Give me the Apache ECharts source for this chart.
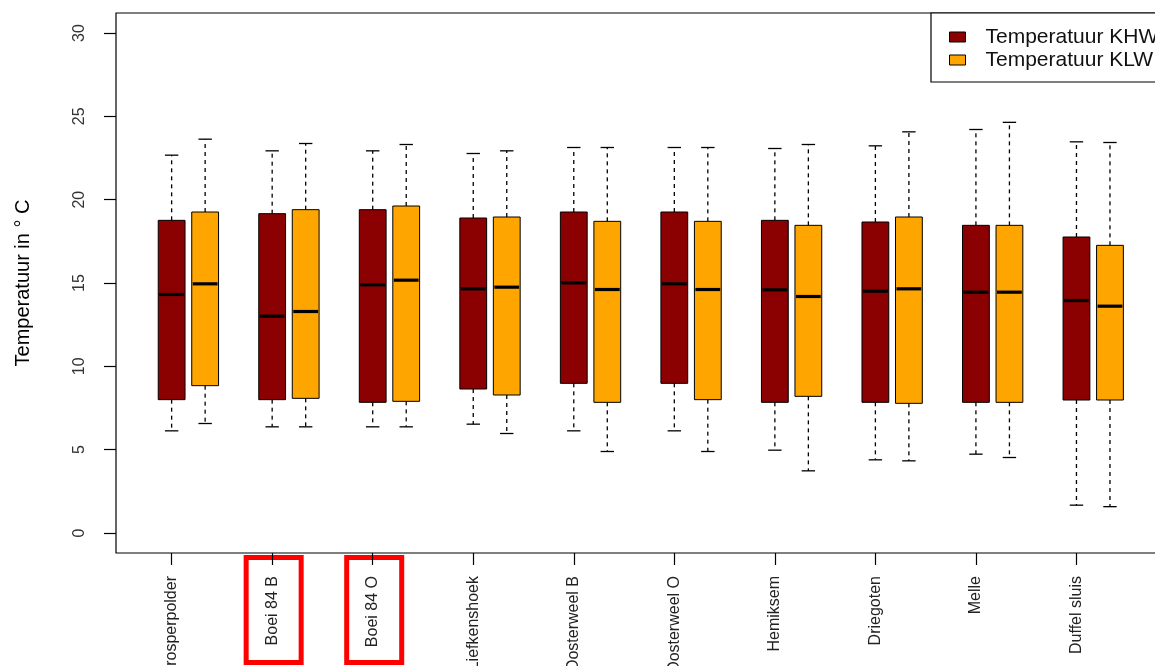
<!DOCTYPE html>
<html>
<head>
<meta charset="utf-8">
<script src="https://cdn.jsdelivr.net/npm/echarts@6/dist/echarts.min.js"></script>
<style>
html,body{margin:0;padding:0;background:#fff;}
#chart{width:1155px;height:666px;}
</style>
</head>
<body>
<div id="chart"></div>
<script>
// Categories (stations)
const categories = ['Prosperpolder','Boei 84 B','Boei 84 O','Liefkenshoek','Oosterweel B','Oosterweel O','Hemiksem','Driegoten','Melle','Duffel sluis'];
// Box statistics per station: [lower whisker, Q1, median, Q3, upper whisker]
const khw = [
  [6.13, 8.00, 14.31, 18.76, 22.67],
  [6.37, 8.00, 13.01, 19.16, 22.93],
  [6.37, 7.84, 14.89, 19.40, 22.93],
  [6.53, 8.64, 14.65, 18.90, 22.77],
  [6.13, 8.98, 15.01, 19.26, 23.13],
  [6.13, 8.98, 14.95, 19.26, 23.13],
  [4.97, 7.84, 14.59, 18.76, 23.07],
  [4.39, 7.84, 14.51, 18.66, 23.23],
  [4.73, 7.84, 14.45, 18.46, 24.21],
  [1.67, 7.98, 13.95, 17.76, 23.47]
];
const klw = [
  [6.57, 8.84, 14.95, 19.26, 23.63],
  [6.37, 8.08, 13.29, 19.40, 23.37],
  [6.37, 7.90, 15.17, 19.62, 23.31],
  [5.97, 8.28, 14.75, 18.96, 22.93],
  [4.89, 7.84, 14.61, 18.70, 23.13],
  [4.89, 8.00, 14.61, 18.70, 23.13],
  [3.73, 8.20, 14.19, 18.46, 23.31],
  [4.33, 7.78, 14.65, 18.96, 24.07],
  [4.53, 7.84, 14.45, 18.46, 24.64],
  [1.58, 7.98, 13.61, 17.26, 23.43]
];
const yTicks = [0, 5, 10, 15, 20, 25, 30];
const seriesNames = ['Temperatuur KHW', 'Temperatuur KLW'];
const seriesColors = ['#8B0000', '#FFA500'];
const highlighted = ['Boei 84 B', 'Boei 84 O'];

const FONT = '"Liberation Sans", Arial, sans-serif';
const groupPos = categories.map((c, i) => 3 * i + 1);

function renderItem(params, api) {
  const x = api.value(0);
  const lo = api.value(1), q1 = api.value(2), med = api.value(3), q3 = api.value(4), hi = api.value(5);
  const w = api.size([0.8, 0])[0];
  const cap = w / 2;
  const pLo = api.coord([x, lo]), pQ1 = api.coord([x, q1]), pMed = api.coord([x, med]);
  const pQ3 = api.coord([x, q3]), pHi = api.coord([x, hi]);
  const cx = pLo[0];
  const color = api.visual('color');
  const dash = {stroke: '#000', lineWidth: 1.3, lineDash: [4, 4]};
  const solid = {stroke: '#000', lineWidth: 1.3};
  return {
    type: 'group',
    children: [
      {type: 'line', shape: {x1: cx, y1: pQ3[1], x2: cx, y2: pHi[1]}, style: dash},
      {type: 'line', shape: {x1: cx, y1: pQ1[1], x2: cx, y2: pLo[1]}, style: dash},
      {type: 'line', shape: {x1: cx - cap / 2, y1: pHi[1], x2: cx + cap / 2, y2: pHi[1]}, style: solid},
      {type: 'line', shape: {x1: cx - cap / 2, y1: pLo[1], x2: cx + cap / 2, y2: pLo[1]}, style: solid},
      {type: 'rect', shape: {x: cx - w / 2, y: pQ3[1], width: w, height: pQ1[1] - pQ3[1]},
        style: {fill: color, stroke: '#000', lineWidth: 1}},
      {type: 'line', shape: {x1: cx - w / 2 + 1, y1: pMed[1], x2: cx + w / 2 - 1, y2: pMed[1]},
        style: {stroke: '#000', lineWidth: 3.2}}
    ]
  };
}

const chart = echarts.init(document.getElementById('chart'), null, {renderer: 'canvas'});
const option = {
  animation: false,
  backgroundColor: '#fff',
  textStyle: {fontFamily: FONT},
  grid: {
    left: 116, top: 13, width: 1049.6, height: 540,
    outerBoundsMode: 'none', containLabel: false,
    show: true, borderColor: '#000', borderWidth: 1.2, backgroundColor: 'transparent'
  },
  legend: {
    orient: 'vertical',
    left: 931, top: 13,
    padding: [13, 40, 11, 18],
    itemGap: 1,
    itemWidth: 16, itemHeight: 10,
    backgroundColor: '#fff',
    borderColor: '#000', borderWidth: 1.2, borderRadius: 0,
    textStyle: {fontSize: 21, color: '#111', fontFamily: FONT, lineHeight: 22, padding: [0, 0, 0, 15]},
    data: seriesNames.map((n, i) => ({
      name: n, icon: 'rect',
      itemStyle: {color: seriesColors[i], borderColor: '#000', borderWidth: 1}
    }))
  },
  xAxis: {
    type: 'value',
    min: -0.66, max: 30.66,
    splitLine: {show: false},
    axisLine: {show: false, onZero: false},
    axisTick: {show: true, length: 12, customValues: groupPos, lineStyle: {color: '#000', width: 1.2}},
    axisLabel: {
      customValues: groupPos,
      formatter: v => categories[Math.round((v - 1) / 3)] || '',
      rotate: 90, fontSize: 16, color: '#222', margin: 23, fontFamily: FONT
    }
  },
  yAxis: {
    type: 'value',
    min: -1.2, max: 31.2,
    name: 'Temperatuur in \u00B0 C',
    nameLocation: 'middle', nameRotate: 90, nameGap: 83,
    nameTextStyle: {fontSize: 20, color: '#000', fontFamily: FONT},
    splitLine: {show: false},
    axisLine: {show: false, onZero: false},
    axisTick: {show: true, length: 12, customValues: yTicks, lineStyle: {color: '#000', width: 1.2}},
    axisLabel: {customValues: yTicks, rotate: 90, fontSize: 16, color: '#333', margin: 28, fontFamily: FONT}
  },
  series: [khw, klw].map((arr, s) => ({
    type: 'custom',
    name: seriesNames[s],
    renderItem: renderItem,
    itemStyle: {color: seriesColors[s], borderColor: '#000', borderWidth: 1},
    encode: {x: 0, y: [1, 2, 3, 4, 5]},
    data: arr.map((d, i) => [groupPos[i] + s, d[0], d[1], d[2], d[3], d[4]])
  }))
};
chart.setOption(option);

// Red annotation frames around highlighted station labels
const graphics = highlighted.map(name => {
  const i = categories.indexOf(name);
  const px = chart.convertToPixel({xAxisIndex: 0}, groupPos[i]);
  return {
    type: 'rect',
    shape: {x: px - 26, y: 557.5, width: 55, height: 105},
    style: {fill: 'none', stroke: '#FF0000', lineWidth: 5}
  };
});
chart.setOption({graphic: graphics});
</script>
</body>
</html>
